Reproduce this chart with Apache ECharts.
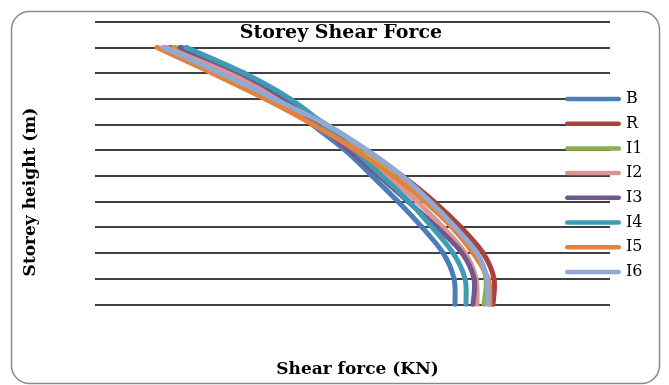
<!DOCTYPE html>
<html>
<head>
<meta charset="utf-8">
<script src="https://cdn.jsdelivr.net/npm/echarts@6/dist/echarts.min.js"></script>
<style>
html,body{margin:0;padding:0;background:#fff;}
#c{width:669px;height:385px;}
</style>
</head>
<body>
<div id="c"></div>
<script>
// Storey heights (m) and shear force values (KN)
const storeyHeights = [0, 3, 6, 9, 12, 15, 18, 21, 24, 27, 30];
const seriesNames = ['B', 'R', 'I1', 'I2', 'I3', 'I4', 'I5', 'I6'];
const B  = [720, 718, 696, 654, 606, 554, 500, 434, 368, 284, 174];
const R  = [796, 798, 776, 732, 678, 614, 542, 462, 374, 270, 150];
const I1 = [778, 782, 762, 720, 670, 612, 542, 462, 376, 282, 160];
const I2 = [764, 762, 740, 696, 644, 586, 524, 452, 366, 270, 142];
const I3 = [756, 758, 734, 684, 626, 568, 508, 446, 380, 290, 170];
const I4 = [742, 740, 716, 674, 628, 574, 518, 458, 390, 298, 182];
const I5 = [790, 786, 756, 714, 660, 596, 522, 436, 340, 234, 124];
const I6 = [786, 784, 764, 720, 670, 614, 544, 462, 358, 250, 136];
const seriesValues = [B, R, I1, I2, I3, I4, I5, I6];
const colors = ['#4A7EBB', '#A9423F', '#8CAF4B', '#D99694', '#70588F', '#3E9BB4', '#E3823A', '#91A8D2'];

const chart = echarts.init(document.getElementById('c'), null, {renderer: 'canvas'});
const serif = 'DejaVu Serif';

// Smooth curve (Excel-like Catmull-Rom Bezier) through the data, positioned by the axes
function makeRenderItem(si) {
  return function (params, api) {
    if (params.dataIndex !== 0) return null;
    const vals = seriesValues[si];
    const pts = vals.map((v, k) => api.coord([v, storeyHeights[k]]));
    const children = [];
    const n = pts.length;
    for (let i = 0; i < n - 1; i++) {
      const p0 = pts[i - 1] || pts[i];
      const p1 = pts[i];
      const p2 = pts[i + 1];
      const p3 = pts[i + 2] || pts[i + 1];
      children.push({
        type: 'bezierCurve',
        shape: {
          x1: p1[0], y1: p1[1],
          cpx1: p1[0] + (p2[0] - p0[0]) / 6, cpy1: p1[1] + (p2[1] - p0[1]) / 6,
          cpx2: p2[0] - (p3[0] - p1[0]) / 6, cpy2: p2[1] - (p3[1] - p1[1]) / 6,
          x2: p2[0], y2: p2[1]
        },
        style: {stroke: colors[si], lineWidth: 5, fill: null, lineCap: 'round', lineJoin: 'round'}
      });
    }
    return {type: 'group', children: children};
  };
}

const series = seriesNames.map((name, i) => ({
  name: name,
  type: 'custom',
  clip: false,
  renderItem: makeRenderItem(i),
  encode: {x: 0, y: 1},
  itemStyle: {color: colors[i]},
  data: seriesValues[i].map((v, k) => [v, storeyHeights[k]]),
  z: 2 + i
}));

chart.setOption({
  animation: false,
  backgroundColor: '#fff',
  graphic: [{
    type: 'rect',
    shape: {x: 11.5, y: 11.5, width: 648, height: 372, r: 18},
    style: {fill: 'none', stroke: '#8a8a8a', lineWidth: 1.5},
    silent: true, z: -1
  }],
  title: {
    text: 'Storey Shear Force',
    left: 341, top: 24, textAlign: 'center', padding: 0,
    textStyle: {fontFamily: serif, fontWeight: 'bold', fontSize: 19, color: '#000'}
  },
  legend: {
    orient: 'vertical',
    left: 565, top: 91, padding: 0,
    itemWidth: 56, itemHeight: 4.5, itemGap: 8.7,
    data: seriesNames,
    icon: 'path://M2.25,0 L53.75,0 A2.25,2.25 0 0 1 53.75,4.5 L2.25,4.5 A2.25,2.25 0 0 1 2.25,0 Z',
    textStyle: {fontFamily: serif, fontSize: 16, color: '#000', lineHeight: 14}
  },
  grid: {left: 95, right: 59, top: 21.7, bottom: 80.7, containLabel: false},
  xAxis: {
    type: 'value', min: 0, max: 1030,
    name: 'Shear force (KN)', nameLocation: 'middle', nameGap: 57,
    nameTextStyle: {fontFamily: serif, fontWeight: 'bold', fontSize: 17, color: '#000', padding: [0, 0, 0, 10]},
    axisLine: {show: false}, axisTick: {show: false}, axisLabel: {show: false},
    splitLine: {show: false}
  },
  yAxis: {
    type: 'value', min: 0, max: 33, interval: 3,
    name: 'Storey height (m)', nameLocation: 'middle', nameGap: 56, nameRotate: 90,
    nameTextStyle: {fontFamily: serif, fontWeight: 'bold', fontSize: 17, color: '#000', padding: [0, 58, 0, 0]},
    axisLine: {show: false}, axisTick: {show: false}, axisLabel: {show: false},
    splitLine: {show: true, lineStyle: {color: '#000', width: 1.5}}
  },
  series: series
});
</script>
</body>
</html>
